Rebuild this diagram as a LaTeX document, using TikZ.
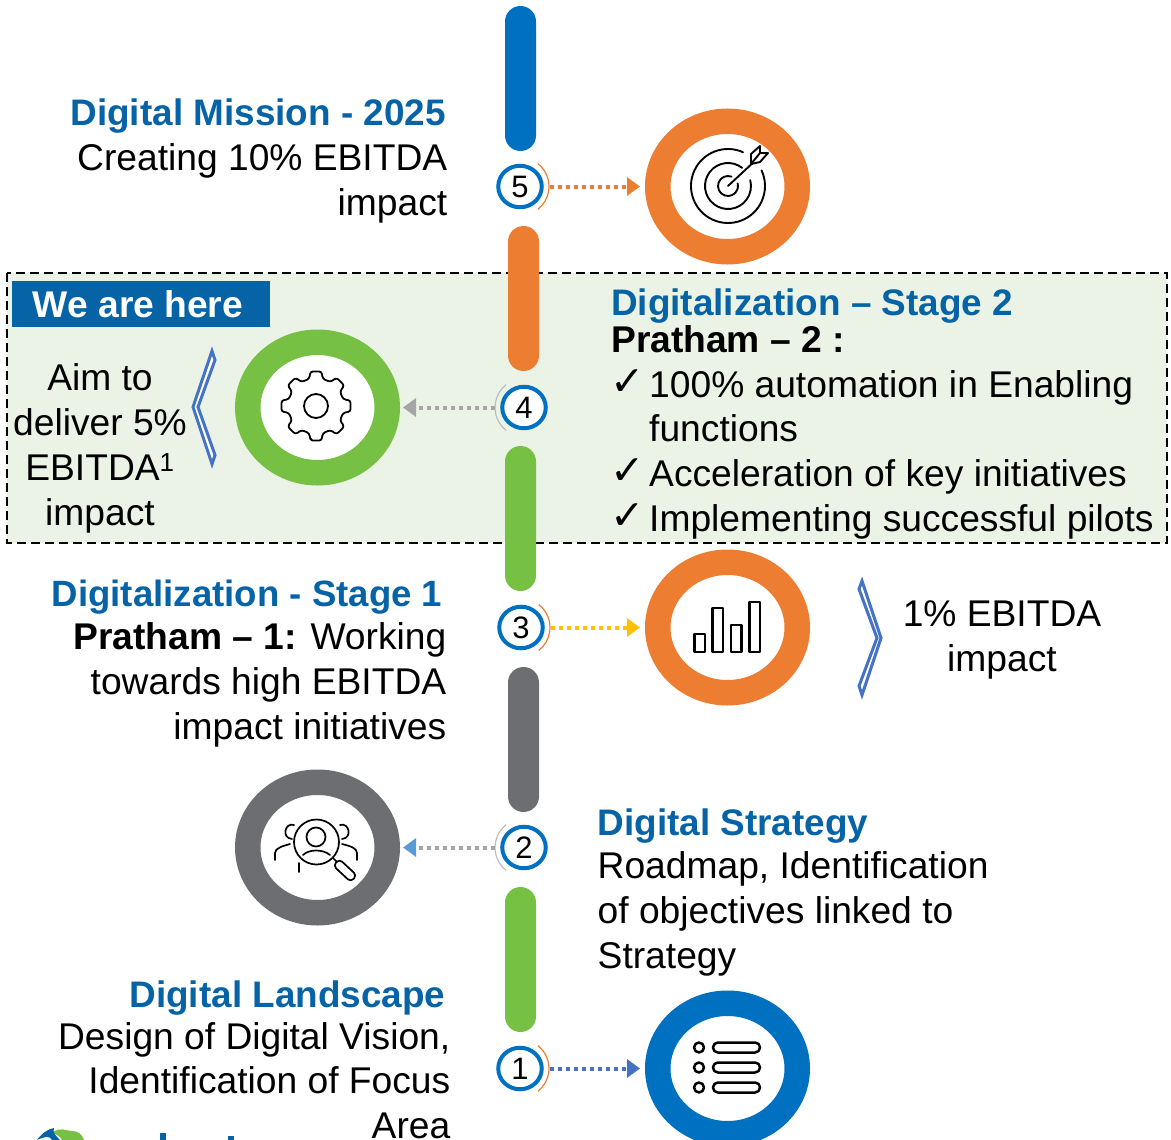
\documentclass[tikz,border=0pt]{standalone}
\usepackage{fontspec}
\setmainfont{Liberation Sans}
\newfontfamily\checkfont{DejaVu Sans}
\usetikzlibrary{shapes.geometric,arrows.meta,calc}
\definecolor{dblue}{HTML}{0563A6}
\definecolor{mblue}{HTML}{0070C0}
\definecolor{orng}{HTML}{ED7D31}
\definecolor{grn}{HTML}{76C043}
\definecolor{gry}{HTML}{6D6E71}
\definecolor{panel}{HTML}{EBF3E6}
\definecolor{cblue}{HTML}{4472C4}
\definecolor{lgry}{HTML}{A5A5A5}
\definecolor{hgry}{HTML}{BDBDBD}
\definecolor{yel}{HTML}{FFC000}
\definecolor{sky}{HTML}{5B9BD5}
\newcommand{\headfont}{\fontsize{36.9}{45}\selectfont\color{dblue}\bfseries}
\tikzset{
 txt/.style={inner sep=0pt,font=\fontsize{37.2}{45}\selectfont,text=black},
 bar/.style={inner sep=0pt,minimum width=31pt,minimum height=145pt,rounded corners=15.5pt,fill=#1},
 ring/.style={ellipse,inner sep=0pt,minimum width=139.5pt,minimum height=130.5pt,draw=#1,line width=25.5pt,fill=white},
 num/.style={ellipse,inner sep=0pt,minimum width=43.5pt,minimum height=41.5pt,draw=mblue,line width=4pt,fill=white,font=\fontsize{31}{31}\selectfont},
 link/.style={draw=#1,line width=4pt,dash pattern=on 4pt off 4pt,-{Triangle[length=13pt,width=18pt,fill=#1,color=#1]}},
 halo/.style={draw=#1,line width=1.2pt},
 icon/.style={draw=black,line width=2.2pt,line cap=round,line join=round},
 chev/.style={draw=cblue,line width=3pt,fill=white,line join=miter},
}
\begin{document}
\begin{tikzpicture}[x=1pt,y=-1pt]
\useasboundingbox (0,0) rectangle (1171,1140);
% panel
\draw[fill=panel,draw=black,line width=2.8pt,dash pattern=on 9pt off 5pt] (7,273) rectangle (1167,543);
\node[inner sep=0pt,minimum width=258pt,minimum height=46pt,fill=dblue,text=white,font=\fontsize{37.2}{45}\selectfont\bfseries] (here) at (141,304) {\hspace*{-6pt}We are here};
% bars
\node[bar=mblue] (b5) at (520.5,78.5) {};
\node[bar=orng] (b4) at (523.5,298.5) {};
\node[bar=grn] (b3) at (520.5,518.5) {};
\node[bar=gry] (b2) at (523.5,739.5) {};
\node[bar=grn] (b1) at (520.5,959.5) {};
% rings
\node[ring=orng] (r5) at (727.5,186.5) {};
\node[ring=grn] (r4) at (317.5,407.5) {};
\node[ring=orng] (r3) at (727.5,627.5) {};
\node[ring=gry] (r2) at (317.5,847.5) {};
\node[ring=mblue] (r1) at (727.5,1068.5) {};
% numbered circles
\node[num] (n5) at (520,186.5) {5};
\node[num] (n4) at (524,407.5) {4};
\node[num] (n3) at (521,627.5) {3};
\node[num] (n2) at (524,847.5) {2};
\node[num] (n1) at (520,1068.5) {1};
% halos
\draw[halo=orng] (n5.center) ++(-52:29) arc[start angle=-52,end angle=52,radius=29];
\draw[halo=orng] (n3.center) ++(-52:29) arc[start angle=-52,end angle=52,radius=29];
\draw[halo=orng] (n1.center) ++(-52:29) arc[start angle=-52,end angle=52,radius=29];
\draw[halo=hgry] (n4.center) ++(128:29) arc[start angle=128,end angle=232,radius=29];
\draw[halo=hgry] (n2.center) ++(128:29) arc[start angle=128,end angle=232,radius=29];
% connectors
\draw[link=orng,shorten <=6.5pt,shorten >=5pt] (n5) -- (r5);
\draw[link=yel,shorten <=6.5pt,shorten >=5pt] (n3) -- (r3);
\draw[link=cblue,shorten <=6.5pt,shorten >=5pt] (n1) -- (r1);
\draw[draw=lgry,line width=4pt,dash pattern=on 4pt off 4pt,-{Triangle[length=13pt,width=18pt,fill=lgry,color=lgry]},shorten <=5.5pt,shorten >=3pt] (n4) -- (r4);
\draw[draw=lgry,line width=4pt,dash pattern=on 4pt off 4pt,-{Triangle[length=13pt,width=18pt,fill=sky,color=sky]},shorten <=5.5pt,shorten >=3pt] (n2) -- (r2);
% chevrons
\draw[chev] (212,351) -- (215,360) -- (198,407) -- (215,455) -- (212,464) -- (193,407) -- cycle;
\draw[chev] (862,581) -- (881,638) -- (862,695) -- (859,686) -- (877,638) -- (859,589) -- cycle;
% target icon
\begin{scope}[shift={(728,186)},icon,line width=1.9pt]
\draw (-66:37) arc[start angle=-66,end angle=-385,radius=37];
\draw (-52:23) arc[start angle=-52,end angle=-375,radius=23];
\draw (-70:10) arc[start angle=-70,end angle=-375,radius=10];
\draw (0,0) -- (28,-26);
\draw[fill=white] (23,-22) -- (23,-32) -- (32,-40) -- (32,-33) -- (40,-33) -- (32,-24) -- cycle;
\draw (32,-33) -- (23,-22);
\end{scope}
% gear icon
\draw[icon,line width=1.8pt,rounded corners=2.5pt] ($(316,406)+(99:35)$)
 \foreach \a in {90,45,0,-45,-90,-135,-180,-225} { -- ($(316,406)+(\a+9:35)$) -- ($(316,406)+(\a-9:35)$) -- ($(316,406)+(\a-14:28)$) -- ($(316,406)+(\a-31:28)$) } -- cycle;
\draw[icon,line width=1.8pt] (316,406) circle[radius=12];
% people search icon
\begin{scope}[icon,line width=1.7pt]
\draw (316.5,842) circle[radius=22.5];
\draw (316,837) circle[radius=9.5];
\draw (303,855) .. controls (309,849) and (323,849) .. (330,855);
\draw (333,858) -- (337,862);
\draw[rotate around={-43:(345,870.5)},rounded corners=4pt] (333,866) rectangle (357,875);
\draw (294,825) .. controls (285,822) and (281,838) .. (292,839);
\draw (340,825) .. controls (349,822) and (353,838) .. (342,839);
\draw (275,860) -- (275,853) .. controls (275,848) and (283,846) .. (290,844);
\draw (357,860) -- (357,853) .. controls (357,848) and (350,846) .. (342,844);
\draw (299,863) -- (299,872);
\end{scope}
% bars icon
\begin{scope}[icon,line width=2.5pt,line cap=butt]
\draw (694.5,634) rectangle (705,652);
\draw (712.5,608) rectangle (723,652);
\draw (731,625) rectangle (741.5,652);
\draw (749.5,602) rectangle (760,652);
\end{scope}
% list icon
\begin{scope}[icon,line width=2.5pt]
\foreach \yy in {1047.5,1067.5,1087.5}{
 \draw (699,\yy) circle[radius=5];
 \draw[rounded corners=4.9pt] (713,\yy-5) rectangle (760,\yy+5);
}
\end{scope}
% cropped logo
\fill[grn] (52,1133) .. controls (60,1126) and (66,1131) .. (72,1131) .. controls (78,1131) and (82,1134) .. (84,1140) -- (62,1140) .. controls (60,1136) and (56,1134) .. (52,1133) -- cycle;
\fill[dblue] (37,1140) .. controls (42,1133) and (48,1129) .. (54,1128) .. controls (52,1132) and (56,1136) .. (60,1140) -- (52,1140) .. controls (50,1136) and (46,1136) .. (37,1140) -- cycle;
\fill[dblue] (160,1133) rectangle (166,1140);
\fill[dblue] (228,1136) rectangle (234,1140);
% texts
\node[txt,align=right,anchor=north east] (t5) at (447.5,93.5) {\strut{\headfont Digital Mission - 2025}\hspace*{1.5pt}\\Creating 10\% EBITDA\\impact};
\node[txt,align=center,anchor=north] (t4) at (100,358.5) {\strut Aim to\\deliver 5\%\\EBITDA\textsuperscript{1}\\impact};
\node[txt,align=left,anchor=north west] (t4h) at (611,283.5) {\strut{\headfont Digitalization -- Stage 2}\\[-8pt]\bfseries Pratham -- 2 :};
\node[txt,anchor=north west,font=\fontsize{41}{45}\selectfont] (c1) at (610,364) {\checkfont\strut ✓};
\node[txt,anchor=north west,font=\fontsize{41}{45}\selectfont] (c2) at (610,453) {\checkfont\strut ✓};
\node[txt,anchor=north west,font=\fontsize{41}{45}\selectfont] (c3) at (610,498) {\checkfont\strut ✓};
\node[txt,align=left,anchor=north west] (l1) at (649,365.5) {\strut 100\% automation in Enabling\\[-1pt]functions};
\node[txt,anchor=north west] (l2) at (649,454.5) {\strut Acceleration of key initiatives};
\node[txt,anchor=north west] (l3) at (649,499.5) {\strut Implementing successful pilots};
\node[txt,align=right,anchor=north east] (t3) at (446.5,574.5) {\strut{\fontsize{36.6}{45}\selectfont\color{dblue}\bfseries Digitalization - Stage 1}\hspace*{4pt}\\[-2pt]\textbf{Pratham -- 1:} Working\\towards high EBITDA\\impact initiatives};
\node[txt,align=center,anchor=north] (t3r) at (1002,594.5) {\strut 1\% EBITDA\\impact};
\node[txt,align=left,anchor=north west] (t2) at (597.5,803.5) {\strut{\headfont Digital Strategy}\\[-2pt]Roadmap, Identification\\of objectives linked to\\Strategy};
\node[txt,align=right,anchor=north east] (t1) at (450.5,975.5) {\strut{\headfont Digital Landscape}\hspace*{5pt}\\[-3pt]Design of Digital Vision,\\[-1pt]Identification of Focus\\Area};
\end{tikzpicture}
\end{document}
